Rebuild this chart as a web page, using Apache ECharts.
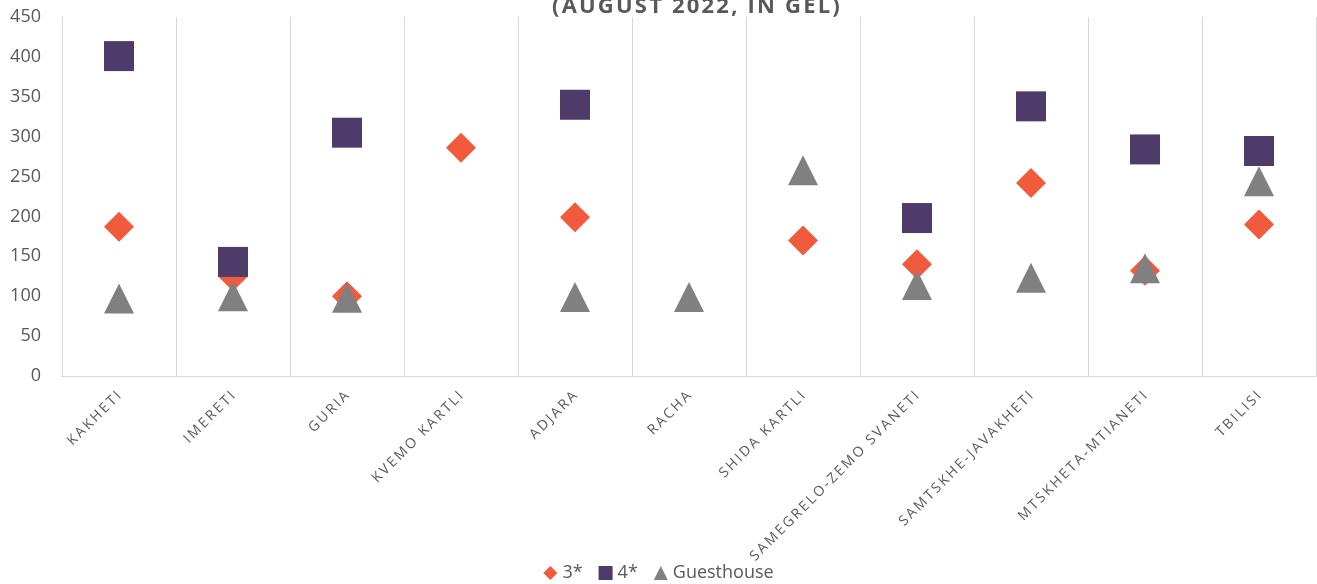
<!DOCTYPE html>
<html><head><meta charset="utf-8">
<script src="https://cdn.jsdelivr.net/npm/echarts@6/dist/echarts.min.js"></script>
<style>html,body{margin:0;padding:0;background:#fff}#c{width:1317px;height:584px}</style>
</head><body><div id="c"></div>
<script>
const categories = ["KAKHETI","IMERETI","GURIA","KVEMO KARTLI","ADJARA","RACHA","SHIDA KARTLI","SAMEGRELO-ZEMO SVANETI","SAMTSKHE-JAVAKHETI","MTSKHETA-MTIANETI","TBILISI"];
const star3 = [187, 125, 100, 286, 199, null, 170, 140, 242, 132, 190];
const star4 = [401, 143, 305, null, 340, null, null, 198, 338, 284, 282];
const guesthouse = [97, 100, 98, null, 99, 99, 258, 114, 123, 135, 244];
const yTicks = [0, 50, 100, 150, 200, 250, 300, 350, 400, 450];
const titleText = '(AUGUST 2022, IN GEL)';

const spaced = (s, sp) => s.split('').join(sp);
const chart = echarts.init(document.getElementById('c'));
const font = '"Open Sans", "Noto Sans", sans-serif';
chart.setOption({
  animation: false,
  textStyle: {fontFamily: font},
  title: {
    text: spaced(titleText, '\u200A'),
    left: 547, top: -9,
    textStyle: {fontSize: 22, fontWeight: 'bold', color: '#595959', fontFamily: font}
  },
  legend: {
    bottom: -3, left: 'center',
    itemWidth: 14, itemHeight: 14, itemGap: 16,
    textStyle: {fontSize: 18, color: '#595959', fontFamily: font},
    data: [
      {name: '3*', icon: 'diamond'},
      {name: '4*', icon: 'rect'},
      {name: 'Guesthouse', icon: 'triangle'}
    ]
  },
  grid: {left: 62, right: 1, top: 17, bottom: 208, containLabel: false},
  xAxis: {
    type: 'category', data: categories, boundaryGap: true,
    axisLine: {lineStyle: {color: '#d9d9d9'}},
    axisTick: {show: false},
    splitLine: {show: true, lineStyle: {color: '#d9d9d9'}},
    axisLabel: {rotate: 45, interval: 0, fontSize: 14, color: '#595959', margin: 18, fontFamily: font,
      formatter: v => spaced(v, '\u2009')}
  },
  yAxis: {
    type: 'value', min: yTicks[0], max: yTicks[yTicks.length-1], interval: 50,
    axisLine: {show: false}, axisTick: {show: false},
    splitLine: {show: false},
    axisLabel: {fontSize: 18, color: '#595959', margin: 21, fontFamily: font}
  },
  series: [
    {name: '3*', type: 'scatter', data: star3, symbol: 'diamond', symbolSize: 30, itemStyle: {color: '#f15a3c', opacity: 1}, z: 2},
    {name: '4*', type: 'scatter', data: star4, symbol: 'rect', symbolSize: 30, itemStyle: {color: '#4e3b6a', opacity: 1}, z: 3},
    {name: 'Guesthouse', type: 'scatter', data: guesthouse, symbol: 'triangle', symbolSize: 30, itemStyle: {color: '#808080', opacity: 1}, z: 4}
  ]
});
</script></body></html>
